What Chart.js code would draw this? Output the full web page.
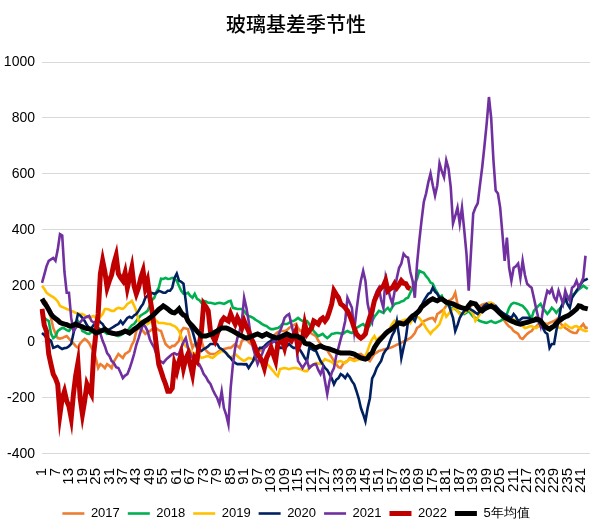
<!DOCTYPE html>
<html>
<head>
<meta charset="utf-8">
<script src="https://cdn.jsdelivr.net/npm/chart.js@4.4.0/dist/chart.umd.min.js"></script>
<style>
  html, body { margin: 0; padding: 0; background: #fff; }
  #wrap { width: 598px; height: 523px; }
</style>
</head>
<body>
<div id="wrap"><canvas id="chartJicha"></canvas></div>
<script>
// 玻璃基差季节性 - 数据
const categories = Array.from({ length: 245 }, (_, i) => String(i + 1));
const yTicks = [-400, -200, 0, 200, 400, 600, 800, 1000];
const seriesNames = ['2017', '2018', '2019', '2020', '2021', '2022', '5年均值'];

const s2017 = [
    150, 148, 140, 110, 86, 50, 30, 14, 12, 14,
    18, 21, 12, 4, -5, -15, -21, -5, 4, 11,
    5, -4, -20, -32, -60, -93, -79, -85, -93, -79,
    -85, -93, -70, -57, -43, -50, -57, -43, -38, -32,
    -10, 4, 39, 50, 45, 39, 29, 35, 39, 45,
    50, 48, 42, 39, 15, -7, -15, -21, -14, -14,
    -5, 4, 39, 50, 48, 46, 10, -21, -7, -14,
    -5, 4, -21, -30, -38, -43, -43, -43, -38, -32,
    -28, -25, -23, -21, -21, -14, -7, -14, -21, 4,
    10, 14, 0, -7, -15, -21, -25, -32, -28, -21,
    -15, -7, 5, 20, 29, 35, 39, 39, 39, 42,
    50, 55, 60, 64, 50, 39, 42, 46, 39, 39,
    30, 25, 21, 5, -7, -15, -21, -30, -43, -55,
    -68, -80, -90, -93, -79, -72, -68, -57, -60, -61,
    -50, -45, -43, -50, -57, -62, -68, -55, -43, -38,
    -32, -30, -27, -25, -23, -21, -18, -14, -10, -7,
    -2, 2, 4, 10, 14, 22, 32, 50, 55, 64,
    75, 78, 82, 85, 86, 75, 100, 105, 111, 118,
    129, 147, 150, 158, 176, 136, 130, 125, 122, 122,
    122, 128, 136, 130, 122, 128, 133, 136, 138, 140,
    138, 136, 125, 111, 100, 86, 75, 64, 55, 50,
    39, 34, 29, 14, 11, 20, 29, 35, 39, 50,
    55, 64, 66, 68, 66, 64, 68, 72, 75, 80,
    86, 64, 58, 50, 45, 39, 35, 32, 32, 46,
    55, 64, 50, 52
];

const s2018 = [
    90, 86, 80, 75, 30, 14, 20, 39, 45, 50,
    48, 42, 39, 50, 64, 70, 75, 60, 39, 35,
    30, 29, 35, 39, 45, 50, 45, 39, 35, 29,
    30, 29, 29, 25, 21, 25, 29, 35, 39, 50,
    60, 64, 75, 86, 95, 100, 105, 111, 130, 150,
    158, 180, 194, 226, 225, 229, 225, 226, 229, 225,
    219, 200, 183, 172, 172, 176, 165, 158, 172, 154,
    150, 140, 147, 145, 140, 140, 138, 136, 138, 140,
    138, 136, 140, 145, 147, 122, 120, 118, 118, 118,
    110, 100, 93, 90, 86, 80, 75, 70, 64, 60,
    57, 50, 46, 46, 48, 50, 55, 64, 64, 64,
    68, 75, 75, 80, 86, 80, 75, 75, 75, 64,
    50, 39, 30, 21, 25, 29, 20, 14, 20, 29,
    30, 32, 32, 30, 29, 35, 39, 35, 32, 40,
    50, 55, 60, 64, 55, 50, 60, 75, 90, 100,
    111, 108, 104, 115, 122, 111, 125, 136, 138, 140,
    145, 147, 155, 158, 176, 194, 210, 226, 254, 250,
    247, 235, 226, 212, 208, 190, 176, 160, 165, 145,
    136, 130, 122, 120, 118, 110, 104, 102, 100, 105,
    111, 100, 90, 86, 80, 75, 72, 70, 68, 72,
    75, 70, 68, 72, 75, 80, 86, 100, 122, 135,
    140, 138, 136, 132, 129, 120, 111, 95, 86, 111,
    120, 129, 136, 120, 111, 100, 110, 122, 115, 104,
    115, 122, 135, 147, 155, 165, 170, 172, 180, 188,
    194, 201, 195, 190
];

const s2019 = [
    201, 190, 176, 170, 165, 160, 154, 145, 129, 125,
    122, 118, 115, 111, 108, 104, 102, 100, 100, 95,
    90, 86, 90, 93, 85, 75, 90, 100, 118, 118,
    115, 111, 111, 118, 122, 120, 118, 125, 136, 140,
    147, 130, 111, 75, 75, 75, 70, 64, 70, 78,
    82, 75, 68, 68, 68, 66, 64, 64, 60, 57,
    50, 39, 20, -7, -15, -21, -30, -39, -40, -43,
    -50, -57, -55, -52, -50, -55, -57, -50, -43, -38,
    -32, -35, -39, -48, -57, -50, -43, -50, -57, -63,
    -68, -62, -57, -59, -61, -65, -68, -68, -68, -72,
    -79, -85, -95, -104, -115, -122, -97, -95, -93, -95,
    -97, -95, -93, -93, -95, -97, -100, -104, -104, -93,
    -85, -80, -75, -77, -79, -70, -61, -65, -68, -72,
    -79, -75, -70, -68, -72, -75, -68, -61, -65, -68,
    -65, -62, -61, -55, -50, -30, -7, 10, 21, 4,
    15, 21, 25, 29, 40, 50, 65, 75, 64, 70,
    75, 78, 80, 82, 68, 80, 93, 90, 86, 75,
    64, 50, 39, 29, 40, 46, 55, 64, 86, 111,
    90, 100, 111, 118, 122, 111, 100, 102, 104, 110,
    118, 110, 100, 75, 86, 100, 111, 125, 136, 138,
    140, 130, 122, 110, 104, 98, 93, 90, 88, 86,
    80, 75, 70, 64, 58, 50, 52, 55, 57, 52,
    50, 55, 57, 60, 64, 55, 50, 55, 57, 55,
    52, 50, 55, 64, 58, 52, 50, 55, 57, 52,
    46, 42, 39, 40
];

const s2020 = [
    32, 25, 14, 10, 4, -21, -18, -14, -20, -25,
    -22, -21, -15, -7, 30, 64, 100, 95, 86, 75,
    60, 50, 50, 60, 75, 82, 70, 64, 50, 39,
    45, 50, 55, 60, 64, 75, 64, 75, 86, 90,
    86, 95, 100, 111, 125, 136, 158, 165, 176, 175,
    172, 175, 183, 180, 176, 176, 183, 183, 194, 229,
    244, 219, 215, 208, 147, 75, 55, 39, 10, -21,
    -28, -32, -25, -21, -15, -7, -7, -7, -7, -21,
    -25, -32, -40, -50, -57, -68, -75, -79, -79, -79,
    -80, -79, -93, -80, -68, -45, -32, -21, -21, -15,
    -7, 0, 4, 14, 0, -7, -21, -21, -21, -15,
    -7, -15, -21, -21, -21, -30, -43, -57, -68, -21,
    -25, -30, -32, -50, -68, -80, -93, -100, -115, -130,
    -151, -135, -129, -115, -120, -129, -115, -125, -140, -151,
    -175, -201, -236, -258, -283, -236, -201, -130, -115, -93,
    -80, -68, -43, -30, -21, 4, 25, 39, 75, 20,
    -57, -20, 14, 75, 80, 86, 75, 100, 111, 130,
    147, 160, 172, 176, 194, 180, 172, 158, 155, 150,
    147, 136, 110, 86, 39, 60, 86, 100, 111, 115,
    122, 115, 111, 105, 100, 110, 122, 130, 136, 130,
    122, 125, 129, 120, 111, 105, 100, 95, 90, 86,
    100, 90, 75, 80, 86, 86, 86, 86, 80, 75,
    75, 75, 60, 50, 35, 29, -21, -7, -7, 40,
    75, 122, 140, 158, 135, 122, 158, 170, 183, 195,
    208, 219, 222, 226
];

const s2021 = [
    211, 240, 270, 290, 295, 300, 290, 330, 385, 380,
    250, 176, 176, 86, 39, 50, 64, 70, 80, 86,
    90, 93, 75, 70, 60, 50, 30, 4, -15, -40,
    -50, -68, -75, -90, -93, -110, -129, -120, -115, -95,
    -70, -43, -10, 14, 40, 64, 55, 39, 10, -7,
    -21, -45, -68, -70, -75, -65, -57, -50, -43, -40,
    -45, -43, -20, 0, 14, -21, -40, -55, -68, -75,
    -79, -95, -115, -125, -140, -150, -170, -186, -200, -222,
    -176, -236, -260, -294, -165, -80, -21, 14, 40, 75,
    158, 122, 75, 20, -21, -50, -79, -60, -43, -21,
    -15, -7, -5, 0, 4, 20, 39, 60, 86, 95,
    100, 64, 30, 4, -68, -80, -93, -80, -68, -93,
    -85, -80, -79, -100, -115, -93, -140, -186, -140, -110,
    -93, -50, -21, 10, 39, 75, 158, 140, 122, 39,
    110, 172, 220, 254, 219, 136, 100, 75, 158, 180,
    194, 150, 122, 229, 194, 160, 136, 180, 229, 265,
    280, 315, 305, 301, 250, 219, 158, 280, 362, 434,
    500, 530, 570, 602, 560, 523, 560, 638, 610, 588,
    649, 620, 552, 423, 450, 480, 423, 480, 400, 315,
    183, 320, 459, 480, 495, 560, 624, 700, 781, 875,
    800, 650, 541, 530, 480, 387, 290, 373, 265, 219,
    265, 270, 280, 229, 290, 240, 208, 200, 194, 158,
    120, 86, 57, 111, 150, 183, 175, 190, 160, 147,
    183, 160, 136, 183, 160, 147, 194, 200, 219, 194,
    210, 229, 308
];

const s2022 = [
    118, 60, 39, -43, -80, -115, -130, -151, -258, -200,
    -176, -211, -230, -272, -186, -120, -75, -201, -258, -210,
    -151, -170, -186, -43, 30, 100, 244, 290, 250, 194,
    219, 240, 280, 308, 244, 230, 219, 247, 194, 230,
    265, 200, 172, 194, 230, 254, 194, 219, 160, 111,
    50, -20, -80, -104, -129, -150, -176, -176, -165, -79,
    -104, -70, -43, -93, -60, -43, -80, -115, -57, -68,
    -10, 39, 136, 125, 111, 39, 20, 4, 29, 50,
    75, 86, 80, 75, 100, 80, 64, 86, 70, 50,
    75, 55, 39, 14, 0, -21, -43, -55, -68, -93,
    -57, -40, -21, -45, -68, -7, 0, 4, -21, 14,
    10, 4, 20, 39, -21, 0, 14, 64, 29, 40,
    50, 75, 70, 64, 80, 86, 75, 86, 110, 136,
    183, 170, 158, 136, 130, 122, 111, 95, 75, 50,
    29, 20, 14, 20, 29, 64, 90, 111, 147, 165,
    183, 194, 200, 219, 183, 190, 194, 208, 194, 205,
    219, 210, 208, 194, 190
];

const sAvg5 = [
    154, 140, 129, 115, 100, 90, 84, 78, 70, 66,
    64, 62, 58, 57, 60, 64, 60, 57, 54, 50,
    48, 47, 44, 38, 32, 35, 39, 42, 46, 40,
    34, 32, 30, 29, 30, 32, 35, 39, 36, 32,
    38, 45, 50, 57, 64, 70, 75, 80, 86, 92,
    100, 108, 116, 122, 129, 124, 118, 111, 106, 104,
    110, 118, 104, 96, 93, 75, 65, 57, 48, 39,
    30, 21, 21, 21, 24, 27, 29, 35, 39, 45,
    50, 50, 50, 47, 43, 39, 34, 29, 25, 21,
    17, 14, 16, 19, 22, 26, 29, 25, 21, 25,
    29, 25, 21, 18, 15, 14, 18, 21, 25, 29,
    25, 21, 21, 21, 19, 15, 11, -4, -7, -7,
    -12, -18, -21, -17, -14, -18, -21, -23, -25, -28,
    -31, -34, -37, -39, -39, -39, -39, -39, -41, -43,
    -48, -53, -57, -59, -61, -57, -45, -39, -20, -8,
    4, 12, 21, 30, 37, 42, 48, 55, 62, 68,
    66, 64, 68, 75, 85, 93, 98, 104, 112, 125,
    132, 138, 145, 150, 154, 150, 147, 152, 154, 148,
    142, 140, 138, 136, 132, 128, 124, 122, 120, 118,
    130, 140, 138, 136, 125, 114, 111, 118, 122, 126,
    129, 124, 118, 110, 102, 95, 88, 84, 79, 75,
    72, 68, 66, 64, 66, 68, 70, 73, 75, 78,
    82, 80, 75, 65, 55, 50, 46, 52, 57, 66,
    75, 80, 86, 90, 93, 98, 104, 111, 118, 129,
    127, 122, 120, 118
];

// 颜色
const COLORS = ['#ED7D31', '#00B050', '#FFC000', '#002060', '#7030A0', '#C00000', '#000000'];
const WIDTHS = [2.6, 2.6, 2.6, 2.6, 2.6, 5, 5];
const allSeries = [s2017, s2018, s2019, s2020, s2021, s2022, sAvg5];

Chart.defaults.font.family = '"Liberation Sans", Arial, sans-serif';
Chart.defaults.color = '#000000';

const ctx = document.getElementById('chartJicha');
new Chart(ctx, {
    type: 'line',
    data: {
        labels: categories,
        datasets: allSeries.map((data, i) => ({
            label: seriesNames[i],
            data: data,
            borderColor: COLORS[i],
            backgroundColor: COLORS[i],
            borderWidth: WIDTHS[i],
            pointRadius: 0,
            tension: 0,
            fill: false,
            // 后面的系列画在上层
            order: allSeries.length - 1 - i
        }))
    },
    options: {
        responsive: true,
        maintainAspectRatio: false,
        animation: false,
        layout: {
            padding: { left: 2, right: 8, top: 0, bottom: -7 }
        },
        plugins: {
            title: {
                display: true,
                text: '玻璃基差季节性',
                color: '#000000',
                font: { family: '"Noto Sans CJK SC", sans-serif', size: 20, weight: '500' },
                padding: { top: 12, bottom: 26 }
            },
            legend: {
                position: 'bottom',
                labels: {
                    usePointStyle: true,
                    pointStyle: 'line',
                    pointStyleWidth: 22,
                    font: { size: 13 },
                    color: '#000000',
                    padding: 8,
                    sort: (a, b) => a.datasetIndex - b.datasetIndex
                }
            },
            tooltip: { enabled: false }
        },
        scales: {
            x: {
                grid: { display: false },
                border: { display: false },
                afterFit: function (axis) {
                    axis.paddingLeft = 0;
                    axis.paddingRight = 0;
                },
                ticks: {
                    autoSkip: false,
                    maxRotation: 90,
                    minRotation: 90,
                    padding: 6,
                    font: { size: 15 },
                    color: '#000000',
                    callback: function (value, index) {
                        return index % 6 === 0 ? categories[index] : '';
                    }
                }
            },
            y: {
                min: yTicks[0],
                max: yTicks[yTicks.length - 1],
                afterBuildTicks: function (axis) {
                    axis.ticks = yTicks.map(v => ({ value: v }));
                },
                afterFit: function (axis) {
                    axis.width = 40;
                },
                grid: {
                    color: '#d9d9d9',
                    lineWidth: 1,
                    drawTicks: false
                },
                border: { display: false },
                ticks: {
                    padding: 7,
                    font: { size: 14 },
                    color: '#000000',
                    callback: function (value) {
                        return String(value);
                    }
                }
            }
        }
    }
});
</script>
</body>
</html>
